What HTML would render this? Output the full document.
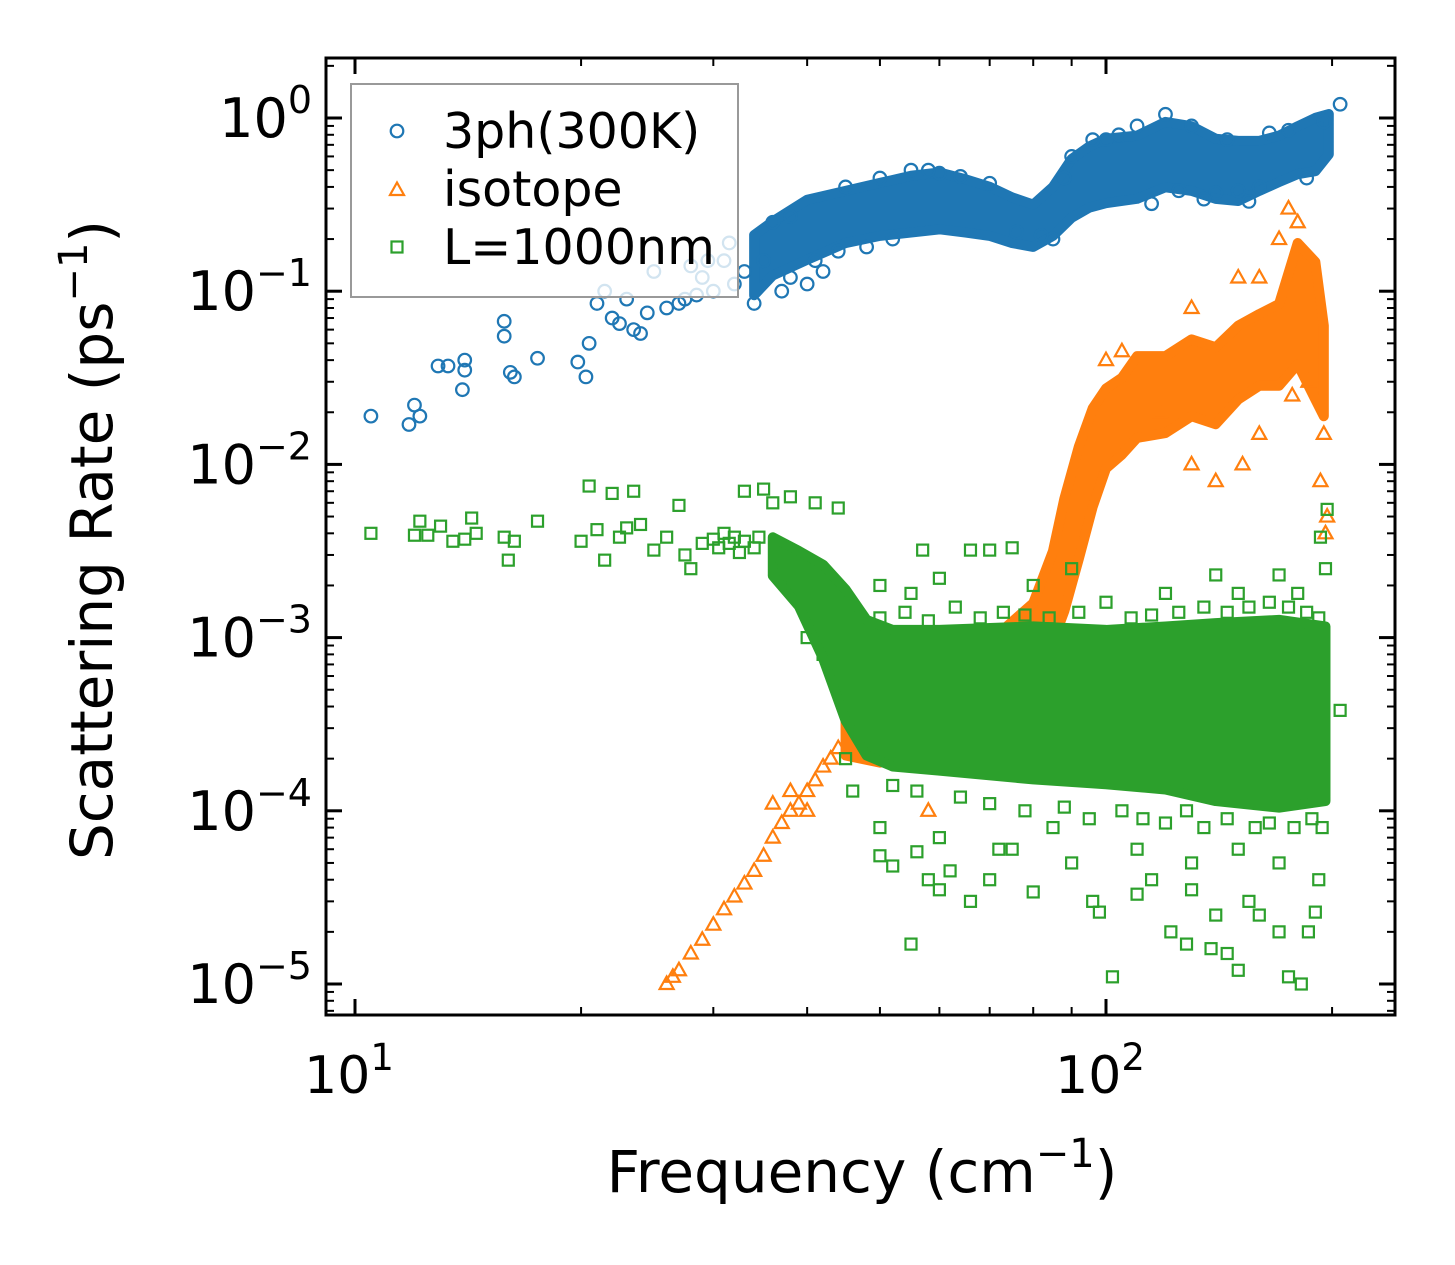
<!DOCTYPE html>
<html><head><meta charset="utf-8"><style>
html,body{margin:0;padding:0;background:#fff;}
svg{display:block;font-family:"DejaVu Sans","Liberation Sans",sans-serif;}
</style></head><body>
<svg id="chart" width="1455" height="1265" viewBox="0 0 1455 1265" xmlns="http://www.w3.org/2000/svg">
<g id="plot"></g>
<g id="axes"></g>
</svg>
<script>
// ---- data (frequency cm^-1, rate ps^-1) ----
const blueBand = [[34,0.1,0.2],[36,0.13,0.24],[40,0.16,0.32],[45,0.2,0.36],[50,0.22,0.4],[55,0.23,0.44],[60,0.24,0.46],[65,0.23,0.42],[70,0.22,0.38],[75,0.2,0.33],[80,0.19,0.3],[85,0.22,0.38],[90,0.28,0.55],[95,0.32,0.65],[100,0.34,0.72],[110,0.36,0.75],[120,0.42,0.9],[130,0.4,0.85],[140,0.36,0.72],[150,0.35,0.7],[160,0.4,0.7],[170,0.45,0.75],[180,0.5,0.85],[190,0.52,0.95],[198,0.65,1.0]];
const bluePts = [[10.5,0.019],[11.8,0.017],[12,0.022],[12.2,0.019],[12.9,0.037],[13.3,0.037],[13.9,0.027],[14,0.035],[14,0.04],[15.8,0.067],[15.8,0.055],[16.1,0.034],[16.3,0.032],[17.5,0.041],[19.8,0.039],[20.3,0.032],[20.5,0.05],[21,0.085],[21.5,0.1],[22,0.07],[22.5,0.065],[23,0.09],[23.5,0.06],[24,0.057],[24.5,0.075],[25,0.13],[26,0.08],[27,0.085],[27.5,0.09],[28,0.14],[28.5,0.095],[29,0.12],[29.5,0.15],[30,0.1],[31,0.15],[31.5,0.19],[32,0.11],[33,0.13],[34,0.085],[35,0.15],[36,0.25],[38,0.27],[37,0.1],[40,0.11],[42,0.13],[45,0.4],[50,0.45],[55,0.5],[60,0.48],[70,0.42],[85,0.2],[90,0.6],[100,0.75],[110,0.9],[120,1.05],[130,0.9],[140,0.37],[150,0.38],[160,0.4],[175,0.85],[195,0.95],[205,1.2],[38,0.12],[41,0.15],[44,0.17],[48,0.18],[52,0.2],[58,0.5],[64,0.46],[76,0.22],[82,0.21],[88,0.45],[96,0.75],[104,0.8],[115,0.32],[125,0.38],[135,0.34],[145,0.75],[155,0.33],[165,0.82],[185,0.45]];
const orangeBand = [[45,2.2e-4,3.5e-4],[50,2e-4,6e-4],[60,2.5e-4,8e-4],[70,3e-4,9e-4],[80,5e-4,1.5e-3],[85,1e-3,3e-3],[88,1.5e-3,6e-3],[92,3e-3,1.2e-2],[96,6e-3,2e-2],[100,1e-2,2.6e-2],[105,1.2e-2,3e-2],[110,1.5e-2,4e-2],[120,1.6e-2,4e-2],[130,2e-2,5e-2],[140,1.8e-2,4.5e-2],[150,2.5e-2,6e-2],[160,3e-2,7e-2],[170,3e-2,8e-2],[180,4e-2,1.8e-1],[190,2.5e-2,1.4e-1],[195,2e-2,6e-2]];
const orangePts = [[26,1e-5],[26.5,1.1e-5],[27,1.2e-5],[28,1.5e-5],[29,1.8e-5],[30,2.2e-5],[31,2.7e-5],[32,3.2e-5],[33,3.8e-5],[34,4.5e-5],[35,5.5e-5],[36,7e-5],[37,8.5e-5],[38,1.0e-4],[39,1.1e-4],[40,1.3e-4],[41,1.5e-4],[42,1.8e-4],[43,2e-4],[44,2.3e-4],[36,1.1e-4],[38,1.3e-4],[40,1e-4],[58,1e-4],[100,4e-2],[105,4.5e-2],[130,8e-2],[150,0.12],[160,0.12],[175,0.3],[180,0.25],[170,0.2],[195,1.5e-2],[196,4e-3],[197,5e-3],[193,8e-3],[118,2e-2],[130,1e-2],[140,8e-3],[152,1e-2],[160,1.5e-2],[177,2.5e-2],[186,3e-2]];
const greenBand = [[36,2.4e-3,3.6e-3],[39,1.6e-3,3e-3],[42,8e-4,2.5e-3],[45,3.5e-4,1.8e-3],[48,2.2e-4,1.2e-3],[52,1.9e-4,1.05e-3],[60,1.8e-4,1.05e-3],[80,1.6e-4,1.1e-3],[100,1.5e-4,1.05e-3],[120,1.4e-4,1.1e-3],[140,1.2e-4,1.15e-3],[170,1.1e-4,1.2e-3],[196,1.2e-4,1.1e-3]];
const greenPts = [[10.5,4e-3],[12,3.9e-3],[12.2,4.7e-3],[12.5,3.9e-3],[13,4.4e-3],[13.5,3.6e-3],[14,3.7e-3],[14.3,4.9e-3],[14.5,4e-3],[15.8,3.8e-3],[16,2.8e-3],[16.3,3.6e-3],[17.5,4.7e-3],[20,3.6e-3],[20.5,7.5e-3],[21,4.2e-3],[21.5,2.8e-3],[22,6.8e-3],[22.5,3.8e-3],[23,4.3e-3],[23.5,7e-3],[24,4.5e-3],[25,3.2e-3],[26,3.8e-3],[27,5.8e-3],[27.5,3e-3],[28,2.5e-3],[29,3.5e-3],[30,3.7e-3],[30.5,3.3e-3],[31,4e-3],[31.5,3.5e-3],[32,3.8e-3],[32.5,3.1e-3],[33,3.6e-3],[34,3.3e-3],[34.5,3.8e-3],[33,7e-3],[35,7.2e-3],[36,6e-3],[37,2.5e-3],[38,6.5e-3],[38,2e-3],[40,1e-3],[41,6e-3],[42,8e-4],[44,5.6e-3],[45,2e-4],[46,1.3e-4],[55,1.7e-5],[52,4.8e-5],[50,5.5e-5],[56,5.8e-5],[58,4e-5],[60,3.5e-5],[62,4.5e-5],[66,3e-5],[70,4e-5],[72,6e-5],[80,3.4e-5],[90,5e-5],[96,3e-5],[98,2.6e-5],[102,1.1e-5],[110,3.3e-5],[115,4e-5],[122,2e-5],[128,1.7e-5],[130,3.5e-5],[138,1.6e-5],[140,2.5e-5],[145,1.5e-5],[150,1.2e-5],[155,3e-5],[160,2.5e-5],[170,2e-5],[175,1.1e-5],[182,1e-5],[186,2e-5],[190,2.6e-5],[192,4e-5],[50,8e-5],[60,7e-5],[75,6e-5],[85,8e-5],[110,6e-5],[130,5e-5],[150,6e-5],[170,5e-5],[66,3.2e-3],[70,3.2e-3],[75,3.3e-3],[57,3.2e-3],[60,2.2e-3],[80,2e-3],[90,2.5e-3],[140,2.3e-3],[170,2.3e-3],[193,3.8e-3],[197,5.5e-3],[196,2.5e-3],[205,3.8e-4],[120,1.8e-3],[50,2e-3],[55,1.8e-3],[100,1.6e-3],[150,1.8e-3],[180,1.8e-3],
[50,1.3e-3],[54,1.4e-3],[58,1.25e-3],[63,1.5e-3],[68,1.3e-3],[73,1.4e-3],[78,1.35e-3],[84,1.3e-3],[92,1.4e-3],[108,1.3e-3],[115,1.35e-3],[125,1.4e-3],[135,1.5e-3],[145,1.4e-3],[155,1.5e-3],[165,1.6e-3],[175,1.5e-3],[185,1.4e-3],[192,1.3e-3],
[52,1.4e-4],[56,1.3e-4],[64,1.2e-4],[70,1.1e-4],[78,1e-4],[88,1.05e-4],[95,9e-5],[105,1e-4],[112,9e-5],[120,8.5e-5],[128,1e-4],[135,8e-5],[145,9e-5],[158,8e-5],[165,8.5e-5],[178,8e-5],[188,9e-5],[194,8e-5]];
const xTickVals = [10,100];
const xTickLabels = ["10","10"];
const xTickExp = ["1","2"];
const yTickVals = [1,0.1,0.01,0.001,1e-4,1e-5];
const yTickExp = ["0","\u22121","\u22122","\u22123","\u22124","\u22125"];

// ---- axes functions ----
const X0=326,X1=1395,Y0=58,Y1=1015;
const x = f => 355 + (Math.log10(f)-1)*751;
const y = r => 118 - Math.log10(r)*173.2;
const NS="http://www.w3.org/2000/svg";
const plot=document.getElementById('plot'), axes=document.getElementById('axes');
function mk(tag,attrs,parent){const e=document.createElementNS(NS,tag);for(const k in attrs)e.setAttribute(k,attrs[k]);parent.appendChild(e);return e;}

const cp=mk('clipPath',{id:'clip'},plot);mk('rect',{x:X0,y:Y0,width:X1-X0,height:Y1-Y0},cp);
const g=mk('g',{'clip-path':'url(#clip)'},plot);

function band(data,color,name){
  let pts=data.map(d=>x(d[0])+','+(y(d[2])-4)).concat(data.slice().reverse().map(d=>x(d[0])+','+(y(d[1])+4)));
  const p=mk('polygon',{points:pts.join(' '),fill:color,stroke:color,'stroke-width':10,'stroke-linejoin':'round'},g);
  
  
}
function marker(shape,cx,cy,color,parent){
  let e;
  if(shape==='o') e=mk('circle',{cx:cx,cy:cy,r:6.3,fill:'none',stroke:color,'stroke-width':2.2},parent);
  else if(shape==='^') e=mk('polygon',{points:`${cx},${cy-7.5} ${cx+7},${cy+5} ${cx-7},${cy+5}`,fill:'none',stroke:color,'stroke-width':2.2},parent);
  else e=mk('rect',{x:cx-5.5,y:cy-5.5,width:11,height:11,fill:'none',stroke:color,'stroke-width':2.2},parent);
  return e;
}
function points(data,shape,color,name){
  data.forEach(d=>{
    const e=marker(shape,x(d[0]),y(d[1]),color,g);
    
    
  });
}
const BLUE='#1f77b4',OR='#ff7f0e',GR='#2ca02c';
band(blueBand,BLUE,'band-3ph');
points(bluePts,'o',BLUE,'point-3ph');
band(orangeBand,OR,'band-isotope');
points(orangePts,'^',OR,'point-isotope');
band(greenBand,GR,'band-boundary');
points(greenPts,'s',GR,'point-boundary');

// frame
const fr=mk('rect',{x:X0,y:Y0,width:X1-X0,height:Y1-Y0,fill:'none',stroke:'#000','stroke-width':3},axes);


// x ticks
for(let dec=1;dec<=100;dec*=10){for(let m=1;m<=9;m++){const v=dec*10*m/10;const xv=x(v);if(xv<X0||xv>X1)continue;
  const L=(m===1)?16:8;
  mk('line',{x1:xv,y1:Y1,x2:xv,y2:Y1-L,stroke:'#000','stroke-width':(m===1?3:2)},axes);
  mk('line',{x1:xv,y1:Y0,x2:xv,y2:Y0+L,stroke:'#000','stroke-width':(m===1?3:2)},axes);}}
xTickVals.forEach((v,i)=>{
  const t=mk('text',{x:x(v)-6,y:1093,'font-size':52,'text-anchor':'middle'},axes);
  
  
  t.innerHTML=xTickLabels[i]+'<tspan dy="-23" font-size="37">'+xTickExp[i]+'</tspan>';
});
// y ticks
for(let e=-6;e<=0;e++){for(let m=1;m<=9;m++){const v=Math.pow(10,e)*m;const yv=y(v);if(yv<Y0||yv>Y1)continue;
  const L=(m===1)?16:8;
  mk('line',{x1:X0,y1:yv,x2:X0+L,y2:yv,stroke:'#000','stroke-width':(m===1?3:2)},axes);
  mk('line',{x1:X1,y1:yv,x2:X1-L,y2:yv,stroke:'#000','stroke-width':(m===1?3:2)},axes);}}
yTickVals.forEach((v,i)=>{
  const t=mk('text',{x:312,y:y(v)+19,'font-size':54,'text-anchor':'end'},axes);
  
  
  t.innerHTML='10<tspan dy="-24" font-size="38">'+yTickExp[i]+'</tspan>';
});
// axis titles
const xt=mk('text',{x:862,y:1192,'font-size':58,'text-anchor':'middle'},axes);

xt.innerHTML='Frequency (cm<tspan dy="-25" font-size="40">\u22121</tspan><tspan dy="25">)</tspan>';
const yt=mk('text',{x:0,y:0,'font-size':58,'text-anchor':'middle',transform:'translate(112,540) rotate(-90)'},axes);

yt.innerHTML='Scattering Rate (ps<tspan dy="-25" font-size="40">\u22121</tspan><tspan dy="25">)</tspan>';

// legend
const lg=mk('g',{},axes);

mk('rect',{x:351,y:84,width:387,height:213,fill:'#fff','fill-opacity':0.8,stroke:'#999','stroke-width':2},lg);
const leg=[['o',BLUE,'3ph(300K)'],['^',OR,'isotope'],['s',GR,'L=1000nm']];
leg.forEach((d,i)=>{
  const yy=131+i*58;
  const e=mk('g',{},lg);
  
  
  marker(d[0],397,yy+(d[0]==='^'?1:0),d[1],e);
  const t=mk('text',{x:443,y:yy+17,'font-size':49},e);
  t.textContent=d[2];
});
</script>
</body></html>
